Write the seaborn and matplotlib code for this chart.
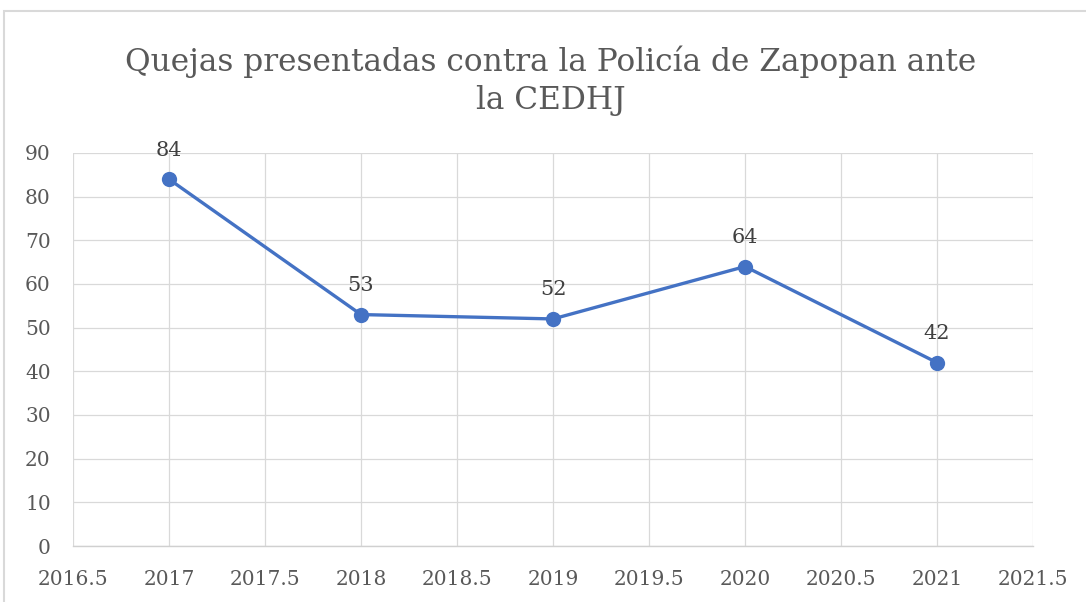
import matplotlib
matplotlib.use("Agg")
import matplotlib.pyplot as plt
import matplotlib.patches as mpatches
import seaborn as sns
import pandas as pd
import numpy as np

years = [2017, 2018, 2019, 2020, 2021]
quejas = [84, 53, 52, 64, 42]
title = "Quejas presentadas contra la Policía de Zapopan ante\nla CEDHJ"

sns.set_theme(style="white")
plt.rcParams['font.family'] = ['DejaVu Serif', 'Liberation Serif']

df = pd.DataFrame({"year": years, "quejas": quejas})

fig = plt.figure(figsize=(10.86, 6.02), dpi=100)
ax = fig.add_axes([73/1086, 1-546/602, (1033-73)/1086, (546-153)/602])

# outer chart border
fig.patches.append(mpatches.Rectangle((4/1086, -0.05), 1.1, 1-11/602+0.05,
                                      transform=fig.transFigure, fill=False,
                                      edgecolor="#d9d9d9", linewidth=1.5))

sns.lineplot(data=df, x="year", y="quejas", ax=ax, color="#4472C4",
             linewidth=2.4, marker="o", markersize=11, markeredgewidth=0, zorder=3)

ax.set_xlim(2016.5, 2021.5)
ax.set_ylim(0, 90)
ax.set_xticks(np.arange(2016.5, 2021.51, 0.5))
ax.set_xticklabels([f"{v:g}" for v in np.arange(2016.5, 2021.51, 0.5)])
ax.set_yticks(np.arange(0, 91, 10))
ax.grid(True, color="#d9d9d9", linewidth=0.9)
ax.set_axisbelow(True)
for s in ["top", "right", "left"]:
    ax.spines[s].set_visible(False)
ax.spines["bottom"].set_color("#d0d0d0")
ax.spines["bottom"].set_linewidth(1.0)
ax.tick_params(axis="both", length=0, labelsize=14.5, labelcolor="#595959")
ax.tick_params(axis="x", pad=17)
ax.tick_params(axis="y", pad=16)
ax.set_xlabel("")
ax.set_ylabel("")

for x, y in zip(years, quejas):
    ax.annotate(f"{y}", (x, y), xytext=(0, 14), textcoords="offset points",
                ha="center", va="bottom", fontsize=15, color="#404040")

fig.text(551/1086, 1-81/602, title, ha="center", va="center", fontsize=22.5,
         color="#595959", linespacing=1.3)

fig.savefig("out.png", dpi=100)
